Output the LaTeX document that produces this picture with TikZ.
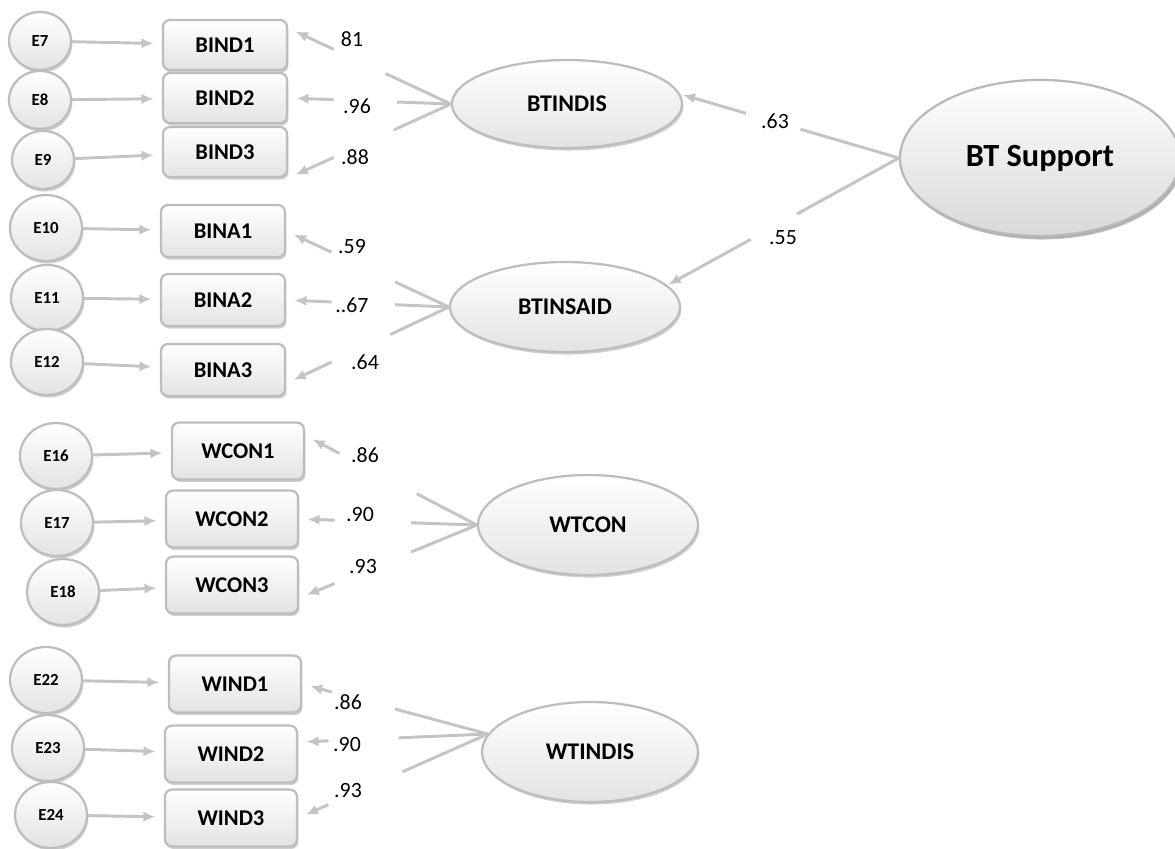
\documentclass[tikz,border=0pt]{standalone}
\usepackage{fontspec}
\setmainfont{Carlito}
\usepackage{tikz}
\usetikzlibrary{arrows.meta,shapes,shadows,calc}
\definecolor{linegray}{HTML}{C4C4C4}
\definecolor{rimgray}{HTML}{BDBDBD}

\begin{document}
\begin{tikzpicture}[x=0.025cm,y=-0.025cm,
  shade/.style={draw=rimgray,line width=1.6pt,top color=white,bottom color=gray!22,
    drop shadow={shadow xshift=1pt,shadow yshift=-1.8pt,fill=gray!75}},
  box/.style={shade,rounded corners=5pt,inner sep=0pt,minimum width=3.1cm,minimum height=1.25cm,
    font=\fontsize{16}{18}\selectfont\bfseries},
  wbox/.style={box,minimum width=3.3cm,minimum height=1.42cm},
  err/.style={shade,ellipse,inner sep=0pt,minimum width=1.8cm,minimum height=1.65cm,
    font=\fontsize{12}{14}\selectfont\bfseries},
  fac/.style={shade,ellipse,minimum width=5.75cm,minimum height=2.2cm,
    font=\fontsize{17}{20}\selectfont\bfseries},
  link/.style={draw=linegray,line width=2.1pt},
  tip/.style={-{Latex[length=3mm,width=2.6mm]},shorten >=6pt},
  val/.style={inner sep=1pt,font=\fontsize{15.5}{18}\selectfont}]
\useasboundingbox (0,0) rectangle (1175,848);

% error terms
\path[every node/.style={err}]
(40,41)node[minimum width=1.55cm,minimum height=1.45cm](e7){E7}
(40,100)node[minimum width=1.55cm,minimum height=1.45cm](e8){E8}
(43,160)node[minimum width=1.55cm,minimum height=1.45cm](e9){E9}
(46,228)node(e10){E10}
(47,298)node(e11){E11}
(47,362)node(e12){E12}
(56,456)node(e16){E16}
(57,523)node(e17){E17}
(63,592)node(e18){E18}
(46,680)node(e22){E22}
(48,748)node(e23){E23}
(51,815)node(e24){E24};

% indicators
\path[every node/.style={box}]
(225,45)node(bind1){BIND1}
(225,98)node(bind2){BIND2}
(225,152)node(bind3){BIND3}
(223,231)node[minimum height=1.3cm](bina1){BINA1}
(223,300)node[minimum height=1.3cm](bina2){BINA2}
(223,370)node[minimum height=1.3cm](bina3){BINA3};
\path[every node/.style={wbox}]
(238,451)node(wcon1){WCON1}
(232,519)node(wcon2){WCON2}
(232,585)node(wcon3){WCON3}
(235,684)node(wind1){WIND1}
(231,754)node(wind2){WIND2}
(231,818)node(wind3){WIND3};

% factors
\node[fac] (bti) at (567,104) {BTINDIS};
\node[fac,minimum height=2.25cm] (bsa) at (565,307) {BTINSAID};
\node[fac,minimum width=5.5cm,minimum height=2.5cm] (wtc) at (588,525) {WTCON};
\node[fac,minimum width=5.4cm,minimum height=2.5cm] (wti) at (590,752) {WTINDIS};
\node[fac,draw=gray!55,bottom color=gray!30,minimum width=7cm,minimum height=3.9cm,
  drop shadow={shadow xshift=1.5pt,shadow yshift=-2.5pt,fill=gray!90},
  font=\fontsize{23}{27}\selectfont\bfseries] (bts) at (1040,158) {BT Support};

% errors into indicators
\foreach \e/\i in {e7/bind1,e8/bind2,e9/bind3,e10/bina1,e11/bina2,e12/bina3,
  e16/wcon1,e17/wcon2,e18/wcon3,e22/wind1,e23/wind2,e24/wind3}
  \draw[link,tip] (\e) -- (\i);

% loadings, broken where the values sit
\draw[link,tip] (bti.west)--($(bti.west)!.4!(bind1.15)$) ($(bti.west)!.72!(bind1.15)$)--(bind1.15);
\draw[link,tip] (bti.west)--($(bti.west)!.33!(bind2.east)$) ($(bti.west)!.72!(bind2.east)$)--(bind2.east);
\draw[link,tip] (bti.west)--($(bti.west)!.35!(bind3.south east)$) ($(bti.west)!.72!(bind3.south east)$)--(bind3.south east);
\draw[link,tip] (bsa.west)--($(bsa.west)!.33!(bina1.east)$) ($(bsa.west)!.72!(bina1.east)$)--(bina1.east);
\draw[link,tip] (bsa.west)--($(bsa.west)!.33!(bina2.east)$) ($(bsa.west)!.72!(bina2.east)$)--(bina2.east);
\draw[link,tip] (bsa.west)--($(bsa.west)!.36!(bina3.-12)$) ($(bsa.west)!.72!(bina3.-12)$)--(bina3.-12);
\draw[link,tip] (wtc.west)--($(wtc.west)!.35!(wcon1.13)$) ($(wtc.west)!.8!(wcon1.13)$)--(wcon1.13);
\draw[link,tip] (wtc.west)--($(wtc.west)!.37!(wcon2.east)$) ($(wtc.west)!.8!(wcon2.east)$)--(wcon2.east);
\draw[link,tip] (wtc.west)--($(wtc.west)!.37!(wcon3.-11)$) ($(wtc.west)!.8!(wcon3.-11)$)--(wcon3.-11);
\draw[link,tip] (wti.170)--($(wti.170)!.5!(wind1.east)$) ($(wti.170)!.84!(wind1.east)$)--(wind1.east);
\draw[link,tip] (wti.170)--($(wti.170)!.47!(wind2.10)$) ($(wti.170)!.84!(wind2.10)$)--(wind2.10);
\draw[link,tip] (wti.170)--($(wti.170)!.45!(wind3.east)$) ($(wti.170)!.84!(wind3.east)$)--(wind3.east);

% second order
\draw[link,tip,shorten >=2pt] (bts.west)--($(bts.west)!.45!(bti.5)$) ($(bts.west)!.70!(bti.5)$)--(bti.5);
\draw[link,tip,shorten >=1pt] (bts.west)--($(bts.west)!.44!(bsa.12)$) ($(bts.west)!.64!(bsa.12)$)--(bsa.12);

% values
\path[every node/.style={val}]
(352,39)node(v1){81}
(357,106)node(v2){.96}
(355,157)node(v3){.88}
(352,247)node(v4){.59}
(352,305)node(v5){..67}
(365,362)node(v6){.64}
(365,455)node(v7){.86}
(360,515)node(v8){.90}
(363,567)node(v9){.93}
(348,702)node(v10){.86}
(347,745)node(v11){.90}
(348,790)node(v12){.93}
(775,121)node(v13){.63}
(783,238)node(v14){.55};
\end{tikzpicture}
\end{document}
